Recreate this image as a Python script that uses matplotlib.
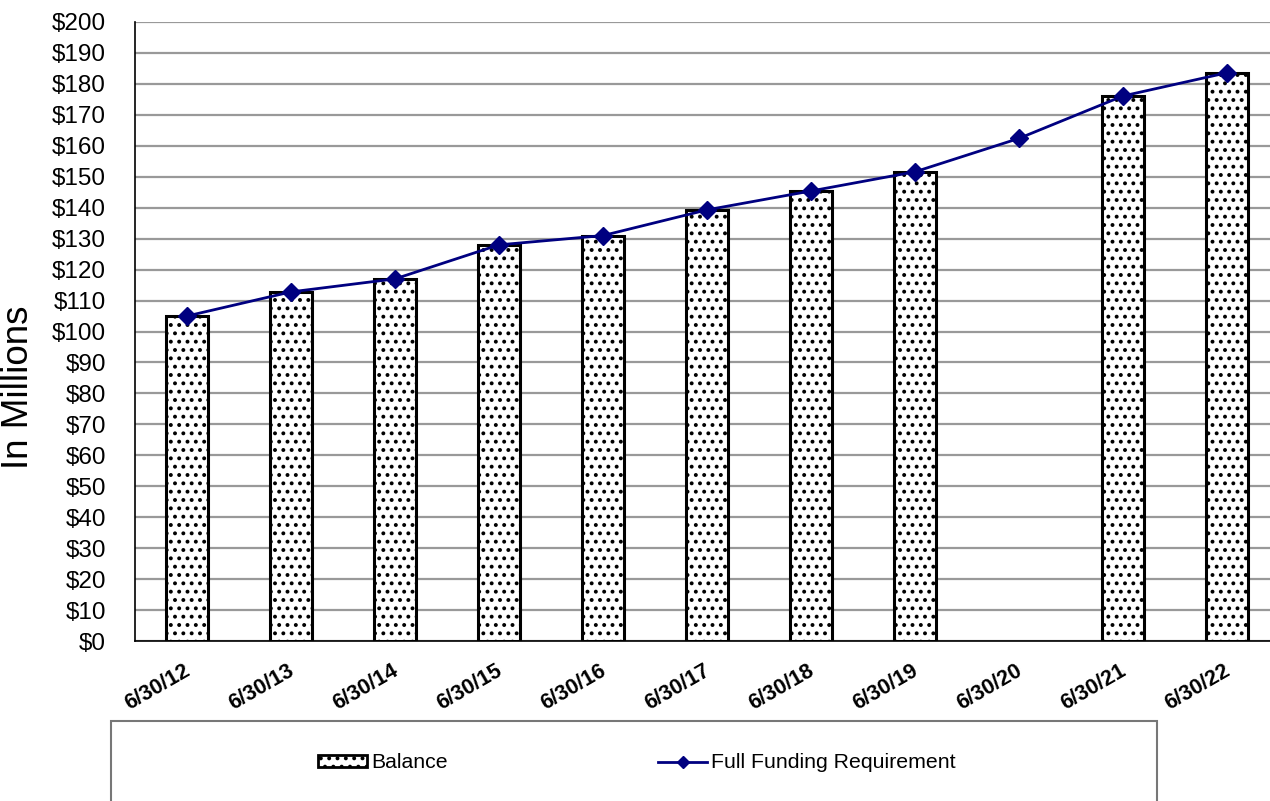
import numpy as np
import matplotlib.pyplot as plt
import matplotlib.transforms as mtransforms
from matplotlib.patches import Rectangle
from matplotlib.lines import Line2D

plt.rcParams['font.family'] = ['Liberation Sans', 'DejaVu Sans']
plt.rcParams['hatch.linewidth'] = 1.6

# data (millions)
dates = ['6/30/12', '6/30/13', '6/30/14', '6/30/15', '6/30/16', '6/30/17',
         '6/30/18', '6/30/19', '6/30/20', '6/30/21', '6/30/22']
balance = [105, 112.8, 117, 128, 131, 139.3, 145.4, 151.6, np.nan, 176.1, 183.6]
full_funding = [105, 112.8, 117, 128, 131, 139.3, 145.4, 151.6, 162.4, 176.1, 183.6]

W, H = 1270, 801
fig = plt.figure(figsize=(W / 100, H / 100), dpi=100)
ax = fig.add_axes([135 / W, 1 - 641 / H, 1144 / W, 619 / H])

x = np.arange(len(dates))
ax.bar(x, balance, width=0.4, color='white', edgecolor='black', linewidth=2.2,
       hatch='..', zorder=3)
ax.plot(x, full_funding, color='#000080', linewidth=2, marker='D', markersize=9,
        zorder=4)

ax.set_xlim(-0.5, len(dates) - 0.5)
ax.set_ylim(0, 200)
ax.set_yticks(np.arange(0, 201, 10))
ax.set_yticklabels([f'${v}' for v in range(0, 201, 10)], fontsize=17.5)
ax.yaxis.grid(True, color='#999999', linewidth=1.6, zorder=0)
ax.tick_params(axis='y', length=0, pad=21)
ax.tick_params(axis='x', length=0, pad=14)
ax.set_xticks(x)
ax.set_xticklabels(dates, rotation=30, ha='right', va='top',
                   rotation_mode='anchor', fontsize=15.5, fontweight='bold')

for s in ['top', 'right']:
    ax.spines[s].set_visible(False)
ax.spines['left'].set_linewidth(1.2)
ax.spines['bottom'].set_linewidth(1.2)

# nudge x labels so they end just past the bar centre
offset = mtransforms.ScaledTranslation(-0.04, 0, fig.dpi_scale_trans)
for lbl in ax.get_xticklabels():
    lbl.set_transform(lbl.get_transform() + offset)

fig.text(19 / W, 1 - 387 / H, 'In Millions', rotation=90, fontsize=26.5,
         ha='center', va='center')

# legend box
fig.patches.append(Rectangle((111 / W, -0.05), 1046 / W, 0.05 + (801 - 721) / H,
                             transform=fig.transFigure, facecolor='white',
                             edgecolor='#777777', linewidth=1.5))
handles = [
    Rectangle((0, 0), 1, 1, facecolor='white', edgecolor='black', hatch='..',
              linewidth=2),
    Line2D([], [], color='#000080', linewidth=2, marker='D', markersize=6),
]
fig.legend(handles, ['Balance', 'Full Funding Requirement'], ncol=2,
           loc='center', bbox_to_anchor=(637 / W, 1 - 763 / H), frameon=False,
           fontsize=15.3, handlelength=2.3, handleheight=0.55, handletextpad=0.2,
           columnspacing=9.9)

fig.savefig('out.png', dpi=100)
